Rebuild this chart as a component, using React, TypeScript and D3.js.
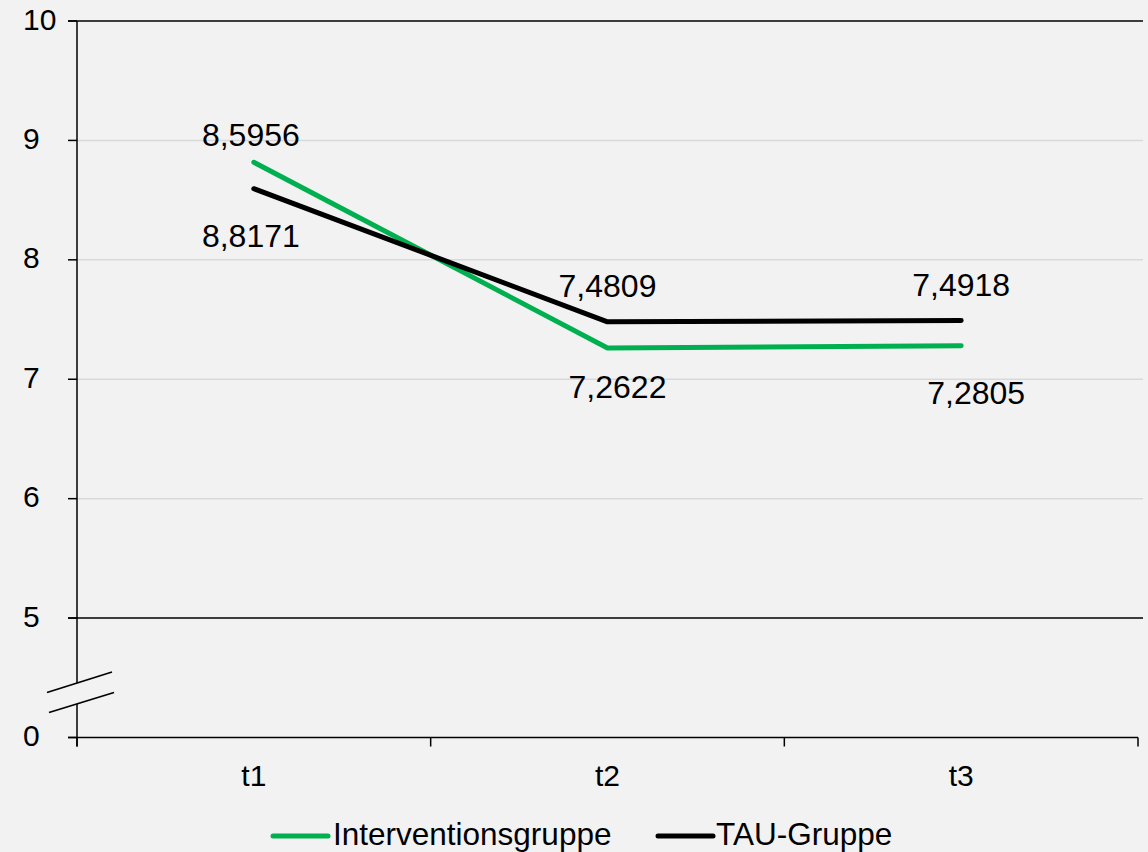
import React from "react";
import * as d3 from "d3";

// Measurement times and the two group means
const categories = ["t1", "t2", "t3"];
const interventionValues = [8.8171, 7.2622, 7.2805];
const tauValues = [8.5956, 7.4809, 7.4918];
const seriesNames = ["Interventionsgruppe", "TAU-Gruppe"];

// Y axis is broken: the lowest tick shows "0" but sits where 4 would be
const yTickValues = [4, 5, 6, 7, 8, 9, 10];
const yTickLabels = ["0", "5", "6", "7", "8", "9", "10"];

// Label offsets (dx, dy) relative to each point
const interventionLabelOffsets: [number, number][] = [[-3, 85], [10, 50], [15, 58]];
const tauLabelOffsets: [number, number][] = [[-3, -43], [0, -25], [0, -25]];

const W = 1148;
const H = 852;
const FONT = "'Liberation Sans', Arial, Helvetica, sans-serif";
const GREEN = "#00b050";

const fmt = (v: number) => v.toFixed(4).replace(".", ",");

export default function App() {
  const left = 77;
  const right = 1138;
  const top = 21;
  const bottom = 737.5;

  const x = d3.scaleBand<string>().domain(categories).range([left, right]);
  const y = d3.scaleLinear().domain([4, 10]).range([bottom, top]);
  const cx = (c: string) => (x(c) ?? 0) + x.bandwidth() / 2;

  const line = d3
    .line<number>()
    .x((_, i) => cx(categories[i]))
    .y((d) => y(d));

  const xTickPositions = [left, ...categories.map((c) => (x(c) ?? 0) + x.bandwidth())];

  const breakTop = 683;
  const breakBottom = 704;

  return (
    <svg
      width={W}
      height={H}
      style={{ position: "absolute", left: 0, top: 0, background: "#f2f2f2" }}
      fontFamily={FONT}
    >
      <rect x={0} y={0} width={W} height={H} fill="#f2f2f2" />

      {/* horizontal gridlines */}
      {[6, 7, 8, 9].map((v) => (
        <line key={v} x1={left} x2={1143} y1={y(v)} y2={y(v)} stroke="#d9d9d9" strokeWidth={1.5} />
      ))}
      {[5, 10].map((v) => (
        <line key={v} x1={left - 9} x2={1143} y1={y(v)} y2={y(v)} stroke="#000" strokeWidth={1.5} />
      ))}

      {/* y axis with break */}
      <line x1={left} x2={left} y1={top} y2={breakTop} stroke="#000" strokeWidth={1.5} />
      <line x1={left} x2={left} y1={breakBottom} y2={bottom + 9} stroke="#000" strokeWidth={1.5} />
      <line x1={47} y1={692.5} x2={112} y2={672} stroke="#000" strokeWidth={1.8} />
      <line x1={49} y1={712.5} x2={114} y2={692.5} stroke="#000" strokeWidth={1.8} />

      {yTickValues.map((v, i) => (
        <g key={v}>
          <line x1={left - 9} x2={left} y1={y(v)} y2={y(v)} stroke="#000" strokeWidth={1.5} />
          <text x={23} y={y(v) + 8.5} fontSize={30} fill="#000">
            {yTickLabels[i]}
          </text>
        </g>
      ))}

      {/* x axis */}
      <line x1={left - 9} x2={right} y1={bottom} y2={bottom} stroke="#000" strokeWidth={1.5} />
      {xTickPositions.map((px, i) => (
        <line key={i} x1={px} x2={px} y1={bottom} y2={bottom + 9} stroke="#000" strokeWidth={1.5} />
      ))}
      {categories.map((c) => (
        <text key={c} x={cx(c)} y={786} fontSize={30} textAnchor="middle" fill="#000">
          {c}
        </text>
      ))}

      {/* series lines */}
      <path d={line(interventionValues) ?? ""} fill="none" stroke={GREEN} strokeWidth={5} strokeLinecap="round" strokeLinejoin="round" />
      <path d={line(tauValues) ?? ""} fill="none" stroke="#000" strokeWidth={5} strokeLinecap="round" strokeLinejoin="round" />

      {/* data labels */}
      {interventionValues.map((v, i) => (
        <text
          key={"iv" + i}
          x={cx(categories[i]) + interventionLabelOffsets[i][0]}
          y={y(v) + interventionLabelOffsets[i][1]}
          fontSize={32}
          textAnchor="middle"
          fill="#000"
        >
          {fmt(v)}
        </text>
      ))}
      {tauValues.map((v, i) => (
        <text
          key={"tau" + i}
          x={cx(categories[i]) + tauLabelOffsets[i][0]}
          y={y(v) + tauLabelOffsets[i][1]}
          fontSize={32}
          textAnchor="middle"
          fill="#000"
        >
          {fmt(v)}
        </text>
      ))}

      {/* legend */}
      <line x1={273} x2={328} y1={836} y2={836} stroke={GREEN} strokeWidth={5} strokeLinecap="round" />
      <text x={333} y={845} fontSize={31.5} fill="#000">
        {seriesNames[0]}
      </text>
      <line x1={658} x2={713} y1={836} y2={836} stroke="#000" strokeWidth={5} strokeLinecap="round" />
      <text x={716} y={845} fontSize={31.5} fill="#000">
        {seriesNames[1]}
      </text>
    </svg>
  );
}
